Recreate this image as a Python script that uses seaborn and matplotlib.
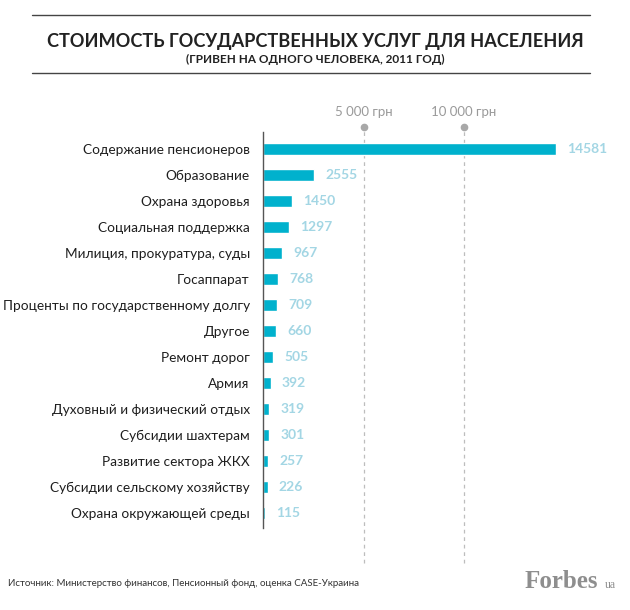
import matplotlib
matplotlib.use("Agg")
import matplotlib.pyplot as plt
import matplotlib.transforms as mtransforms
import pandas as pd
import seaborn as sns

categories = [
    "Содержание пенсионеров",
    "Образование",
    "Охрана здоровья",
    "Социальная поддержка",
    "Милиция, прокуратура, суды",
    "Госаппарат",
    "Проценты по государственному долгу",
    "Другое",
    "Ремонт дорог",
    "Армия",
    "Духовный и физический отдых",
    "Субсидии шахтерам",
    "Развитие сектора ЖКХ",
    "Субсидии сельскому хозяйству",
    "Охрана окружающей среды",
]
values = [14581, 2555, 1450, 1297, 967, 768, 709, 660, 505, 392, 319, 301, 257, 226, 115]
grid_values = [5000, 10000]
grid_labels = ["5 000 грн", "10 000 грн"]

title = "СТОИМОСТЬ ГОСУДАРСТВЕННЫХ УСЛУГ ДЛЯ НАСЕЛЕНИЯ"
subtitle = "(ГРИВЕН НА ОДНОГО ЧЕЛОВЕКА, 2011 ГОД)"
source = "Источник: Министерство финансов, Пенсионный фонд, оценка CASE-Украина"

BAR = "#00b1cd"
VAL = "#a3d6e4"
GREY = "#9a9a9a"

sns.set_style("white")
plt.rcParams["font.family"] = ["Lato", "DejaVu Sans"]

df = pd.DataFrame({"cat": categories, "val": values})

fig = plt.figure(figsize=(6.3, 6.1), dpi=100)
ax = fig.add_axes([0.4175, 0.1344, 0.5424, 0.6492])

# dashed guides, dots and labels above the plot
tr = mtransforms.blended_transform_factory(ax.transData, ax.transAxes)
for gv, gl in zip(grid_values, grid_labels):
    ax.axvline(gv, ymin=-0.088, ymax=1.01, color="#bdbdbd", lw=0.9,
               ls=(0, (3, 3)), clip_on=False, zorder=0)
    ax.plot([gv], [1.012], "o", ms=4.5, color="#a8a8a8", transform=tr, clip_on=False)
    ax.text(gv, 1.05, gl, transform=tr, ha="center", va="center",
            fontsize=9.5, color=GREY)

sns.barplot(data=df, x="val", y="cat", orient="h", color=BAR, width=0.47,
            saturation=1, ax=ax, zorder=2)
ax.bar_label(ax.containers[0], labels=[str(v) for v in values], padding=8,
             color=VAL, fontsize=10, fontweight="bold")

ax.set_xlim(0, 17000)
ax.set_ylim(14.58, -0.65)
ax.set_xlabel("")
ax.set_ylabel("")
ax.set_xticks([])
ax.tick_params(axis="y", length=0, pad=9.5, labelsize=9.8, labelcolor="#1e1e1e")
for s in ["top", "right", "bottom"]:
    ax.spines[s].set_visible(False)
ax.spines["left"].set_color("#555555")
ax.spines["left"].set_linewidth(1)

# header
for yy in [1 - 15 / 610, 1 - 73 / 610]:
    fig.add_artist(plt.Line2D([32 / 630, 590 / 630], [yy, yy], color="#444444", lw=1))
fig.text(0.5, 1 - 42 / 610, title, ha="center", va="center", fontsize=13.1,
         fontweight="bold", color="#222222")
fig.text(0.5, 1 - 59 / 610, subtitle, ha="center", va="center", fontsize=8.5,
         fontweight="bold", color="#222222")

# footer
fig.text(8 / 630, 1 - 584 / 610, source, ha="left", va="center", fontsize=7,
         color="#333333")
fig.text(598 / 630, 1 - 581 / 610, "Forbes", ha="right", va="center", fontsize=18,
         fontweight="bold", color="#8e8e8e", family=["Liberation Serif"])
fig.text(616 / 630, 1 - 585 / 610, "ua", ha="right", va="center", fontsize=8.5,
         color="#8e8e8e", family=["Liberation Serif"])

fig.savefig("out.png", dpi=100)
